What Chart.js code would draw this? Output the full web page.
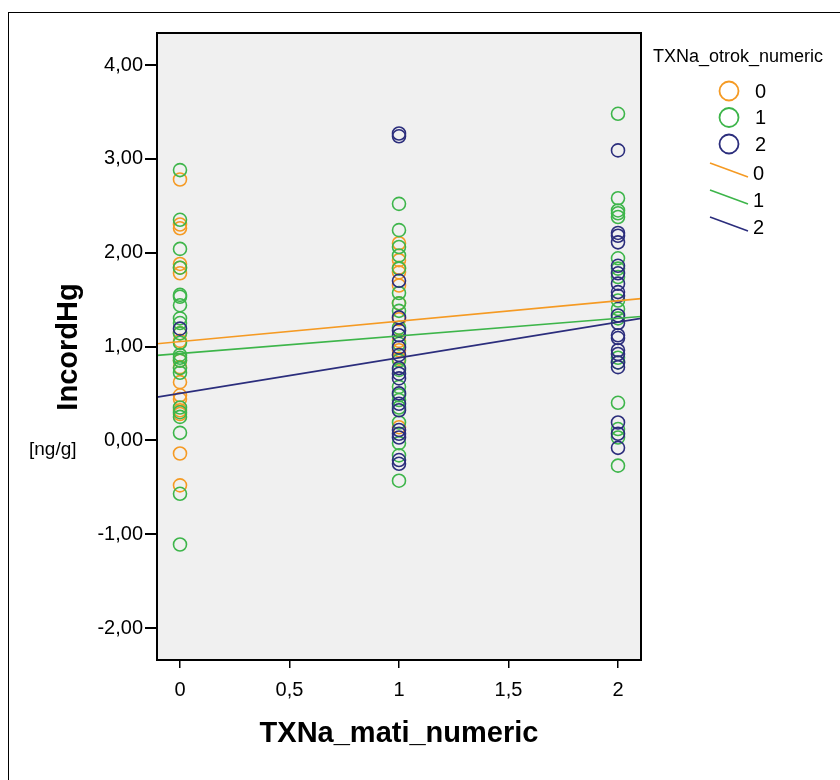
<!DOCTYPE html>
<html>
<head>
<meta charset="utf-8">
<title>IncordHg</title>
<script src="https://cdn.jsdelivr.net/npm/chart.js@4/dist/chart.umd.min.js"></script>
<style>
    html, body { margin: 0; padding: 0; background: #fff; }
    #wrap { position: relative; width: 840px; height: 780px; overflow: hidden; }
    #frame { position: absolute; left: 8px; top: 12px; width: 860px; height: 800px;
             border: 1.5px solid #000; box-sizing: border-box; pointer-events: none; }
</style>
</head>
<body>
<div id="wrap">
    <canvas id="chart" width="840" height="780"></canvas>
    <div id="frame"></div>
</div>
<script>
/* ============================================================
   Data
============================================================ */
const groups = ["0", "1", "2"];
const groupColors = ["#F59A23", "#3DB54A", "#2B2D7C"];

// IncordHg by TXNa_mati_numeric (0, 1, 2) per TXNa_otrok_numeric group
const orangeAt0 = [2.78, 2.30, 2.26, 1.88, 1.84, 1.78, 1.14, 1.06, 0.85, 0.78, 0.62, 0.48, 0.44, 0.32, 0.28, -0.14, -0.48];
const orangeAt1 = [2.10, 1.92, 1.84, 1.79, 1.65, 1.46, 1.29, 1.06, 0.96, 0.87, 0.14];

const greenAt0 = [2.88, 2.35, 2.04, 1.84, 1.55, 1.53, 1.44, 1.30, 1.25, 1.14, 1.04, 0.91, 0.88, 0.85, 0.77, 0.72, 0.35, 0.30, 0.25, 0.08, -0.57, -1.11];
const greenAt1 = [2.52, 2.24, 2.06, 1.97, 1.83, 1.57, 1.46, 1.38, 1.20, 1.03, 0.85, 0.75, 0.57, 0.48, 0.43, 0.35, 0.19, -0.03, -0.16, -0.43];
const greenAt2 = [3.48, 2.58, 2.45, 2.42, 2.38, 1.94, 1.83, 1.74, 1.49, 1.40, 1.30, 0.88, 0.83, 0.40, 0.12, 0.03, -0.27];

const navyAt0 = [1.19];
const navyAt1 = [3.27, 3.24, 1.70, 1.31, 1.17, 1.12, 0.99, 0.91, 0.77, 0.71, 0.66, 0.50, 0.39, 0.32, 0.11, 0.07, 0.03, -0.21, -0.25];
const navyAt2 = [3.09, 2.21, 2.18, 2.11, 1.86, 1.78, 1.67, 1.58, 1.54, 1.33, 1.25, 1.12, 1.09, 0.96, 0.92, 0.83, 0.78, 0.19, 0.07, -0.08];

// fit lines, values at the left and right edge of the x axis
const fitX = [-0.105, 2.105];
const fitOrange = [1.03, 1.51];
const fitGreen = [0.905, 1.32];
const fitNavy = [0.46, 1.30];

const xTickValues = [0, 0.5, 1, 1.5, 2];
const yTickValues = [-2, -1, 0, 1, 2, 3, 4];

/* ============================================================
   Helpers
============================================================ */
function column(x, values) {
    return values.map(v => ({ x: x, y: v }));
}

function scatterSet(label, color, points, order) {
    return {
        type: "scatter",
        label: label,
        data: points,
        borderColor: color,
        backgroundColor: "rgba(0,0,0,0)",
        borderWidth: 1.6,
        pointRadius: 6.5,
        pointHoverRadius: 6.5,
        order: order
    };
}

function fitSet(label, color, values) {
    return {
        type: "line",
        label: label,
        data: fitX.map((x, i) => ({ x: x, y: values[i] })),
        borderColor: color,
        borderWidth: 1.6,
        pointRadius: 0,
        fill: false,
        order: 0
    };
}

const comma = v => String(v).replace(".", ",");
const FONT = "'Liberation Sans', Arial, sans-serif";

/* ============================================================
   Plugins: plot background, frame, titles, legend
============================================================ */
const plotBackground = {
    id: "plotBackground",
    beforeDraw(chart) {
        const { ctx, chartArea: a } = chart;
        ctx.save();
        ctx.fillStyle = "#F0F0F0";
        ctx.fillRect(a.left, a.top, a.right - a.left, a.bottom - a.top);
        ctx.restore();
    },
    afterDraw(chart) {
        const { ctx, chartArea: a } = chart;
        ctx.save();
        ctx.strokeStyle = "#000";
        ctx.lineWidth = 2;
        ctx.strokeRect(a.left, a.top, a.right - a.left, a.bottom - a.top);
        ctx.restore();
    }
};

const annotations = {
    id: "annotations",
    afterDraw(chart) {
        const { ctx } = chart;
        ctx.save();
        ctx.fillStyle = "#000";

        // axis titles
        ctx.font = "bold 29px " + FONT;
        ctx.textAlign = "center";
        ctx.textBaseline = "middle";
        ctx.fillText("TXNa_mati_numeric", 399, 734);

        ctx.save();
        ctx.translate(69, 347);
        ctx.rotate(-Math.PI / 2);
        ctx.fillText("IncordHg", 0, 0);
        ctx.restore();

        // unit label sits in its own white box
        ctx.fillStyle = "#fff";
        ctx.fillRect(22, 428, 82, 42);
        ctx.fillStyle = "#000";
        ctx.font = "19px " + FONT;
        ctx.textAlign = "left";
        ctx.fillText("[ng/g]", 29, 450);

        // legend
        ctx.font = "18px " + FONT;
        ctx.fillText("TXNa_otrok_numeric", 653, 57);

        ctx.font = "20px " + FONT;
        groups.forEach((g, i) => {
            const cy = 91 + i * 26.5;
            ctx.strokeStyle = groupColors[i];
            ctx.lineWidth = 1.8;
            ctx.beginPath();
            ctx.arc(729, cy, 9.5, 0, Math.PI * 2);
            ctx.stroke();
            ctx.fillStyle = "#000";
            ctx.fillText(g, 755, cy + 1);
        });
        groups.forEach((g, i) => {
            const y0 = 163 + i * 27;
            ctx.strokeStyle = groupColors[i];
            ctx.lineWidth = 1.6;
            ctx.beginPath();
            ctx.moveTo(710, y0);
            ctx.lineTo(748, y0 + 14);
            ctx.stroke();
            ctx.fillStyle = "#000";
            ctx.fillText(g, 753, y0 + 11);
        });
        ctx.restore();
    }
};

/* ============================================================
   Chart
============================================================ */
const ctx = document.getElementById("chart").getContext("2d");

new Chart(ctx, {
    data: {
        datasets: [
            fitSet("0", groupColors[0], fitOrange),
            fitSet("1", groupColors[1], fitGreen),
            fitSet("2", groupColors[2], fitNavy),
            scatterSet("2", groupColors[2], [...column(0, navyAt0), ...column(1, navyAt1), ...column(2, navyAt2)], 1),
            scatterSet("1", groupColors[1], [...column(0, greenAt0), ...column(1, greenAt1), ...column(2, greenAt2)], 2),
            scatterSet("0", groupColors[0], [...column(0, orangeAt0), ...column(1, orangeAt1)], 3)
        ]
    },
    options: {
        responsive: false,
        animation: false,
        layout: { padding: { left: 0, top: 33, right: 199, bottom: 0 } },
        plugins: {
            legend: { display: false },
            tooltip: { enabled: false }
        },
        scales: {
            x: {
                type: "linear",
                min: fitX[0],
                max: fitX[1],
                afterBuildTicks: s => { s.ticks = xTickValues.map(v => ({ value: v })); },
                afterFit: s => { s.height = 120; },
                grid: { drawOnChartArea: false, drawTicks: true, tickLength: 8, color: "#000", lineWidth: 1.5 },
                border: { display: true, color: "#000", width: 2 },
                ticks: {
                    color: "#000",
                    padding: 10,
                    font: { family: FONT, size: 20 },
                    callback: v => comma(v)
                }
            },
            y: {
                type: "linear",
                min: -2.341,
                max: 4.341,
                afterBuildTicks: s => { s.ticks = yTickValues.map(v => ({ value: v })); },
                afterFit: s => { s.width = 157; },
                grid: { drawOnChartArea: false, drawTicks: true, tickLength: 12, color: "#000", lineWidth: 2 },
                border: { display: true, color: "#000", width: 2 },
                ticks: {
                    color: "#000",
                    padding: 2,
                    font: { family: FONT, size: 20 },
                    callback: v => comma(v.toFixed(2))
                }
            }
        }
    },
    plugins: [plotBackground, annotations]
});
</script>
</body>
</html>
